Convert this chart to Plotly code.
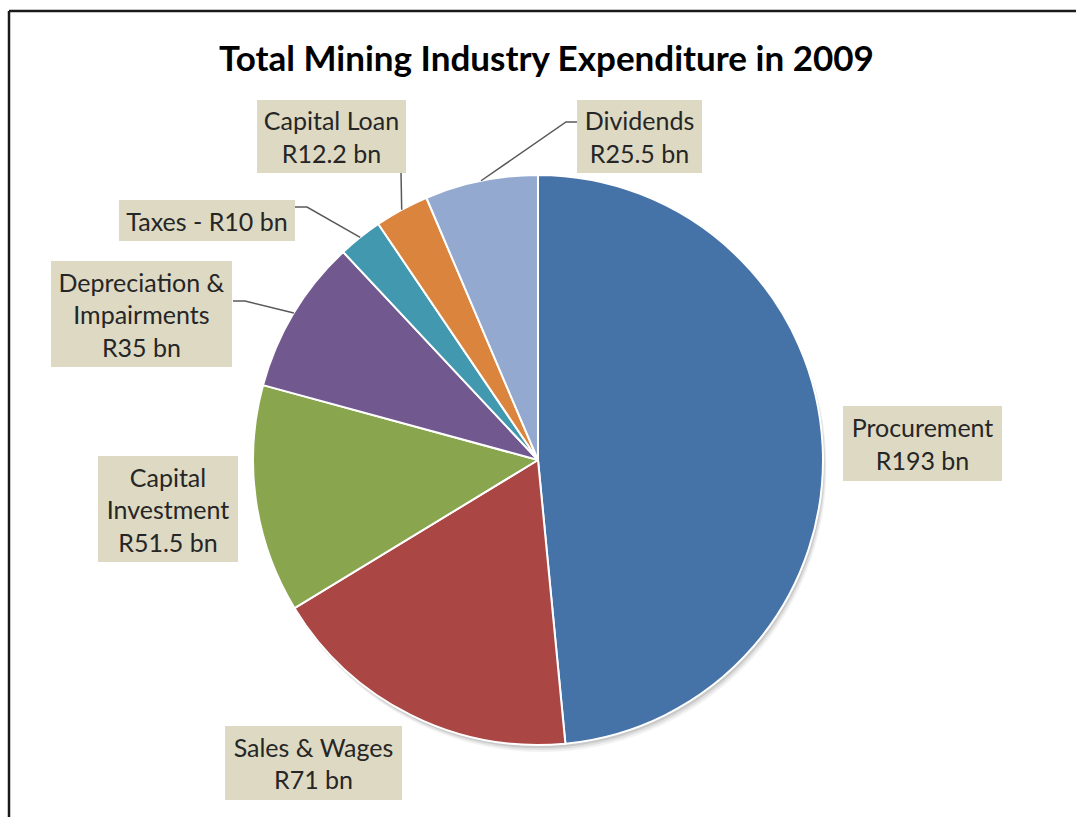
import math
import plotly.graph_objects as go

# Expenditure categories (R billion), clockwise from 12 o'clock
categories = ["Procurement", "Sales & Wages", "Capital Investment",
              "Depreciation & Impairments", "Taxes", "Capital Loan", "Dividends"]
values = [193, 71, 51.5, 35, 10, 12.2, 25.5]
# zero-width non-joiner keeps "ti" from turning into a ligature
label_texts = ["Procurement<br>R193 bn", "Sales & Wages<br>R71 bn",
               "Capital<br>Investment<br>R51.5 bn",
               "Deprecia\u200ction &<br>Impairments<br>R35 bn",
               "Taxes - R10 bn", "Capital Loan<br>R12.2 bn", "Dividends<br>R25.5 bn"]
colors = ["#4572A7", "#AA4643", "#89A54E", "#71588F", "#4198AF", "#DB843D", "#93A9CF"]

W, H = 1076, 817
CX, CY, R = 538, 460, 285


def px(x):
    return x / W


def py(y):
    return 1 - y / H


# label boxes: centre x, centre y, width, height (pixels)
boxes = {
    "Procurement": (922, 443, 159, 75),
    "Sales & Wages": (313, 763, 177, 74),
    "Capital Investment": (168, 509, 140, 106),
    "Depreciation & Impairments": (141, 314, 181, 106),
    "Taxes": (207, 220, 176, 41),
    "Capital Loan": (331, 136, 149, 73),
    "Dividends": (639, 136, 125, 73),
}

# leader line start and elbow for the small slices
leaders = {
    "Dividends": [(577, 122), (566, 122)],
    "Capital Loan": [(401, 172)],
    "Taxes": [(295, 207), (307, 207)],
    "Depreciation & Impairments": [(233, 301), (245, 301)],
}

fig = go.Figure()

fig.add_trace(go.Pie(
    labels=categories,
    values=values,
    sort=False,
    direction="clockwise",
    rotation=0,
    textinfo="none",
    hoverinfo="label+value",
    marker=dict(colors=colors, line=dict(color="white", width=2)),
    domain=dict(x=[px(CX - R), px(CX + R)], y=[py(CY + R), py(CY - R)]),
    showlegend=False,
))

shapes = []
# soft drop shadow beneath the pie
for off, op in [(7, 0.05), (5, 0.07), (3, 0.10)]:
    shapes.append(dict(
        type="circle", xref="paper", yref="paper", layer="below",
        x0=px(CX - R + off * 0.5), x1=px(CX + R + off * 0.5),
        y0=py(CY + R + off), y1=py(CY - R + off),
        fillcolor=f"rgba(0,0,0,{op})", line=dict(width=0),
    ))

# leader lines from label boxes to the middle of each slice's rim
total = sum(values)
cum = 0.0
for name, v in zip(categories, values):
    mid = (cum + v / 2) / total * 2 * math.pi
    cum += v
    if name not in leaders:
        continue
    ex = CX + R * math.sin(mid)
    ey = CY - R * math.cos(mid)
    pts = leaders[name] + [(ex, ey)]
    path = "M " + " L ".join(f"{px(x):.5f},{py(y):.5f}" for x, y in pts)
    shapes.append(dict(type="path", xref="paper", yref="paper", path=path,
                       line=dict(color="#595959", width=1.5)))

# chart frame (top and left edges)
shapes.append(dict(type="line", xref="paper", yref="paper",
                   x0=px(9), x1=px(W), y0=py(11), y1=py(11),
                   line=dict(color="#1a1a1a", width=2.5)))
shapes.append(dict(type="line", xref="paper", yref="paper",
                   x0=px(9), x1=px(9), y0=py(11), y1=py(H),
                   line=dict(color="#1a1a1a", width=2.5)))

annotations = []
for name, text in zip(categories, label_texts):
    bx, by, bw, bh = boxes[name]
    annotations.append(dict(
        xref="paper", yref="paper", x=px(bx), y=py(by),
        xanchor="center", yanchor="middle",
        text=text, showarrow=False, align="center",
        width=bw, height=bh, borderpad=0, borderwidth=0,
        bgcolor="#DDD9C3",
        font=dict(family="Lato", size=25, color="#262626"),
    ))

annotations.append(dict(
    xref="paper", yref="paper", x=px(546), y=py(57),
    xanchor="center", yanchor="middle", showarrow=False,
    text="<b>Total Mining Industry Expenditure in 2009</b>",
    font=dict(family="Lato", size=35, color="#000000"),
))

fig.update_layout(
    width=W, height=H,
    margin=dict(l=0, r=0, t=0, b=0),
    paper_bgcolor="white",
    plot_bgcolor="white",
    shapes=shapes,
    annotations=annotations,
)

fig.write_html("out.html")
